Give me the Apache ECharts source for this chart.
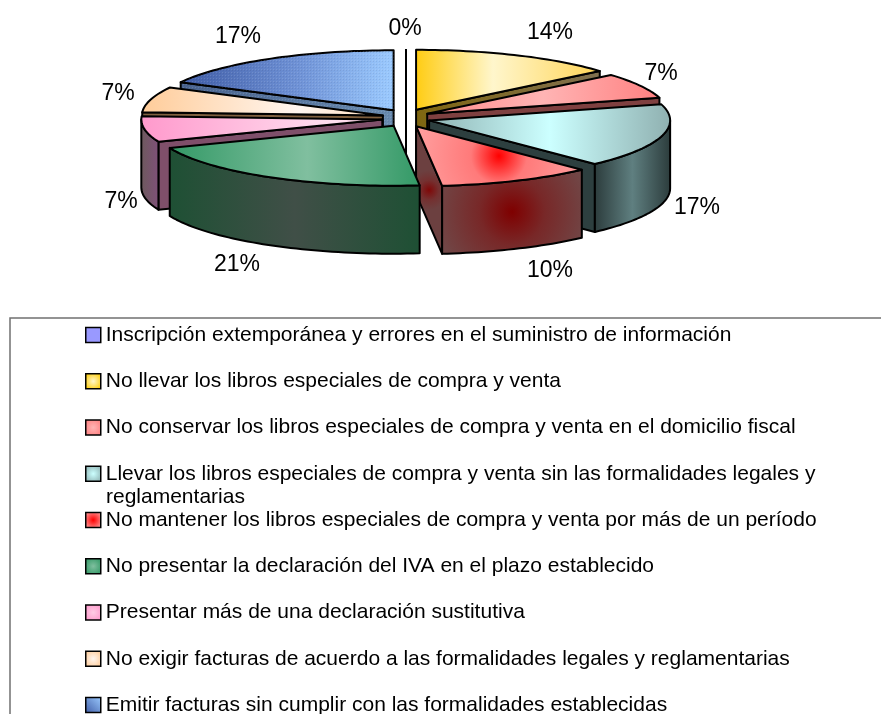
<!DOCTYPE html>
<html>
<head>
<meta charset="utf-8">
<style>
  html, body { margin: 0; padding: 0; background: #fff; overflow: hidden; }
  #chart { width: 881px; height: 714px; }
</style>
</head>
<body>
<div id="chart"></div>
<script src="https://cdn.jsdelivr.net/npm/echarts@6/dist/echarts.min.js"></script>
<script>
// datos de la torta (casos por categoria, n = 29)
const categories = [
  'Inscripción extemporánea y errores en el suministro de información',
  'No llevar los libros especiales de compra y venta',
  'No conservar los libros especiales de compra y venta en el domicilio fiscal',
  'Llevar los libros especiales de compra y venta sin las formalidades legales y\nreglamentarias',
  'No mantener los libros especiales de compra y venta por más de un período',
  'No presentar la declaración del IVA en el plazo establecido',
  'Presentar más de una declaración sustitutiva',
  'No exigir facturas de acuerdo a las formalidades legales y reglamentarias',
  'Emitir facturas sin cumplir con las formalidades establecidas'
];
const values = [0, 4, 2, 5, 3, 6, 2, 2, 5];

// geometria de la torta 3D
const cx = 406, cy = 118, rx = 241, ry = 60, depth = 68;
const explodeX = 24, explodeY = 9;
const labelFont = '23px "Liberation Sans"';
// centro de cada etiqueta de porcentaje
const labelPos = [[405, 29], [550, 33], [661, 74], [697, 208], [550, 271], [237, 265], [121, 202], [118, 94], [238, 37]];
// de atras hacia adelante
const drawOrder = [0, 8, 1, 2, 7, 6, 3, 4, 5];

const Linear = (stops) => new echarts.graphic.LinearGradient(0, 0, 1, 0,
  stops.map(s => ({offset: s[0], color: s[1]})));
const Radial = (r, stops) => new echarts.graphic.RadialGradient(0.5, 0.5, r,
  stops.map(s => ({offset: s[0], color: s[1]})));

// trama punteada de la ultima porcion
const dots = document.createElement('canvas');
dots.width = dots.height = 3;
const dotsCtx = dots.getContext('2d');
dotsCtx.fillStyle = 'rgba(255,255,255,0.12)';
dotsCtx.fillRect(0, 0, 1, 1);
dotsCtx.fillStyle = 'rgba(0,0,40,0.08)';
dotsCtx.fillRect(1, 1, 1, 1);
const dotted = {image: dots, repeat: 'repeat'};

// relleno: tapa, pared exterior, cara de corte
const fills = [
  {top: '#9999ff', wall: '#4c4c80', cut: '#4c4c80'},
  {top: Linear([[0, '#ffcc11'], [0.42, '#fff6cc'], [1, '#ffd455']]), wall: '#7f6a30', cut: Linear([[0, '#7f6610'], [1, '#807050']])},
  {top: Linear([[0, '#ff8a8a'], [0.5, '#ffb4b4'], [1, '#ff8080']]), wall: '#804040', cut: '#7f4040'},
  {top: Linear([[0, '#8fb3b3'], [0.5, '#ccffff'], [1, '#8fb0b0']]), wall: Linear([[0, '#2b3b3b'], [0.5, '#5f7f80'], [1, '#2b3b3b']]), cut: '#2d3f3f'},
  {top: Radial(1.3, [[0, '#ff0000'], [0.35, '#ff7a7a'], [1, '#ff9c9c']]), wall: Radial(0.95, [[0, '#7f0000'], [0.4, '#782828'], [1, '#704a4a']]), cut: Radial(0.7, [[0, '#7f0808'], [0.5, '#743030'], [1, '#6c4040']])},
  {top: Linear([[0, '#339966'], [0.55, '#80bf9f'], [1, '#339966']]), wall: Linear([[0, '#1e5034'], [0.5, '#404f47'], [1, '#1e5034']]), cut: '#1e5034'},
  {top: Linear([[0, '#ff99cc'], [0.8, '#ffe0f0'], [1, '#ffcce5']]), wall: Linear([[0, '#6c5a5c'], [1, '#80507a']]), cut: '#7f4f6a'},
  {top: Linear([[0, '#ffcc99'], [0.65, '#fff6f0'], [1, '#ffdcbb']]), wall: '#80603f', cut: '#80603f'},
  {top: Linear([[0, '#3f5ca6'], [0.55, '#6f92d6'], [1, '#9ccbff']]), wall: '#4c6590', cut: Linear([[0, '#4a6490'], [1, '#6a8cb0']]), texture: dotted}
];
const swatches = [
  '#9999ff',
  Radial(0.6, [[0, '#fff6cc'], [1, '#ffcc00']]),
  Radial(0.6, [[0, '#ffb4b4'], [1, '#ff8080']]),
  Radial(0.6, [[0, '#ccffff'], [1, '#8fb3b3']]),
  Radial(0.6, [[0, '#ff0000'], [1, '#ff9999']]),
  Radial(0.6, [[0, '#80bf9f'], [1, '#339966']]),
  Radial(0.6, [[0, '#ffcce5'], [1, '#ff99cc']]),
  Radial(0.6, [[0, '#fff6f0'], [1, '#ffcc99']]),
  new echarts.graphic.LinearGradient(1, 0, 0, 1, [{offset: 0, color: '#9ccbff'}, {offset: 1, color: '#3f5ca6'}])
];

const total = values.reduce((a, b) => a + b, 0);
const stroke = {stroke: '#000', lineWidth: 2, lineJoin: 'round'};
const RAD = Math.PI / 180;

function renderSlice(idx, api) {
  let before = 0;
  for (let i = 0; i < idx; i++) before += values[i];
  const val = api.value(0);
  const a0 = before / total * 360;
  const a1 = (before + val) / total * 360;
  const mid = (a0 + a1) / 2 * RAD;
  const ox = cx + explodeX * Math.sin(mid);
  const oy = cy - explodeY * Math.cos(mid);
  const rim = (deg) => [ox + rx * Math.sin(deg * RAD), oy - ry * Math.cos(deg * RAD)];
  const down = (p) => [p[0], p[1] + depth];
  const poly = (points, fill) => ({type: 'polygon', shape: {points: points}, style: Object.assign({fill: fill}, stroke)});
  const children = [];
  const style = fills[idx];
  // cara con trama opcional encima
  const face = (points, fill) => {
    children.push(poly(points, fill));
    if (style.texture) {
      children.push({type: 'polygon', shape: {points: points}, style: {fill: style.texture}});
    }
  };

  if (val === 0) {
    children.push({type: 'polyline', shape: {points: [rim(a0), down([ox, oy])]}, style: {stroke: '#000', lineWidth: 2, fill: null}});
  } else {
    const apex = [ox, oy];
    // caras de corte visibles
    if (Math.sin(a0 * RAD) < 0) {
      face([apex, rim(a0), down(rim(a0)), down(apex)], style.cut);
    }
    if (Math.sin(a1 * RAD) > 0) {
      face([apex, rim(a1), down(rim(a1)), down(apex)], style.cut);
    }
    // pared exterior, solo la parte que mira al frente
    const from = Math.max(a0, 90), to = Math.min(a1, 270);
    if (to > from) {
      const upper = [], lower = [];
      for (let d = from; d < to; d += 1.5) upper.push(rim(d));
      upper.push(rim(to));
      upper.forEach(p => lower.unshift(down(p)));
      face(upper.concat(lower), style.wall);
    }
    // tapa
    const top = [apex];
    for (let d = a0; d < a1; d += 1.5) top.push(rim(d));
    top.push(rim(a1));
    face(top, style.top);
  }
  children.push({
    type: 'text',
    z2: 50,
    style: {
      x: labelPos[idx][0], y: labelPos[idx][1],
      text: Math.round(val / total * 100) + '%',
      font: labelFont, fill: '#000', align: 'center', verticalAlign: 'middle'
    }
  });
  return {type: 'group', children: children};
}

const legendFont = 21;
const myChart = echarts.init(document.getElementById('chart'));
myChart.setOption({
  animation: false,
  backgroundColor: '#fff',
  legend: {
    orient: 'vertical',
    left: 10,
    top: 318,
    height: 600,
    padding: [5, 300, 60, 75],
    borderColor: '#707070',
    borderWidth: 1.5,
    itemWidth: 15,
    itemHeight: 15,
    itemGap: 22.25,
    selectedMode: false,
    formatter: (name) => name.split('\n')[0],
    textStyle: {
      fontFamily: 'Liberation Sans',
      fontSize: legendFont,
      color: '#000',
      lineHeight: 24
    },
    data: categories.map((name, i) => ({
      name: name,
      icon: 'rect',
      itemStyle: {color: swatches[i], borderColor: '#000', borderWidth: 1.5}
    }))
  },
  // la segunda linea de la entrada larga no ocupa fila propia en el original
  graphic: categories.filter(name => name.includes('\n')).map(name => ({
    type: 'text',
    left: 106,
    top: 487,
    style: {
      text: name.split('\n')[1],
      font: legendFont + 'px "Liberation Sans"',
      fill: '#000'
    }
  })),
  series: drawOrder.map(idx => ({
    type: 'custom',
    name: categories[idx],
    coordinateSystem: 'none',
    silent: true,
    data: [[values[idx]]],
    renderItem: (params, api) => renderSlice(idx, api)
  }))
});
</script>
</body>
</html>
